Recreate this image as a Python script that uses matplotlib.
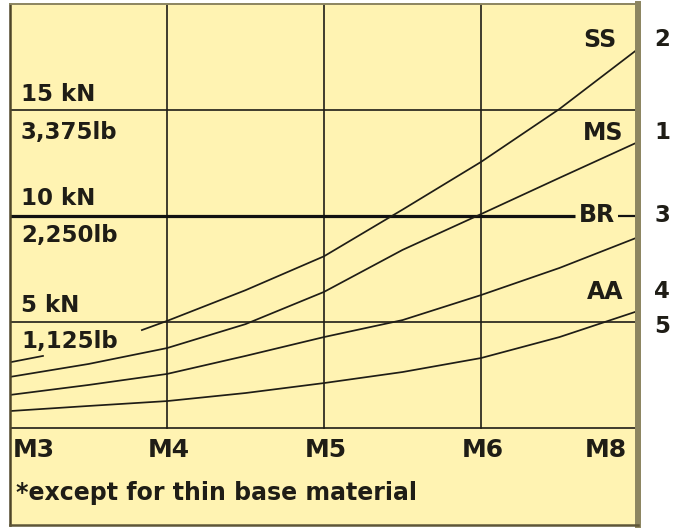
import matplotlib
matplotlib.use("Agg")
import matplotlib.pyplot as plt

# screw sizes along the bottom (positions 0..4 on the x scale)
sizes = ["M3", "M4", "M5", "M6", "M8"]
size_pos = [0, 1, 2, 3, 4]

# force levels (kN) and their lb equivalents
kn_levels = [5, 10, 15]
kn_labels = ["5 kN", "10 kN", "15 kN"]
lb_labels = ["1,125lb", "2,250lb", "3,375lb"]

# curves (x = size position, y = kN)
ss_x = [0, 0.21, 0.84, 1, 1.5, 2, 2.5, 3, 3.5, 4]
ss_y = [3.1, 3.4, 4.62, 5.05, 6.5, 8.1, 10.3, 12.55, 15.05, 17.88]
ms_x = [0, 0.5, 1, 1.5, 2, 2.5, 3, 3.5, 4]
ms_y = [2.41, 3.02, 3.77, 4.9, 6.42, 8.4, 10.09, 11.8, 13.49]
c3_x = [0, 0.5, 1, 1.5, 2, 2.5, 3, 3.5, 4]
c3_y = [1.56, 2.03, 2.55, 3.4, 4.29, 5.09, 6.27, 7.55, 9.0]
c4_x = [0, 0.5, 1, 1.5, 2, 2.5, 3, 3.5, 4]
c4_y = [0.8, 1.04, 1.27, 1.65, 2.12, 2.64, 3.3, 4.29, 5.52]

# labels on the right
grade_labels = ["SS", "MS", "BR", "AA"]
grade_y = [17.97, 13.58, 9.72, 6.08]
grade_x = [3.866, 3.904, 3.854, 3.904]
num_labels = ["2", "1", "3", "4", "5"]
num_y = [18.02, 13.63, 9.72, 6.13, 4.48]

yellow = "#fff3b2"
ink = "#1f1d16"
frame = "#8c8560"

fig = plt.figure(figsize=(6.77, 5.29), dpi=100)
ax = fig.add_axes([10 / 677, 4 / 529, 628 / 677, 521 / 529])
ax.set_facecolor(yellow)
ax.set_xlim(0, 4)
ax.set_ylim(-4.575, 20)
ax.set_xticks([])
ax.set_yticks([])
ax.spines["left"].set_color("#4e4528")
ax.spines["left"].set_linewidth(1.8)
ax.spines["top"].set_color(frame)
ax.spines["top"].set_linewidth(1.4)
ax.spines["bottom"].set_color("#5e5638")
ax.spines["bottom"].set_linewidth(1.8)
ax.spines["right"].set_color(frame)
ax.spines["right"].set_linewidth(4.3)

# grid
for p in size_pos[1:-1]:
    ax.plot([p, p], [0, 20], color=ink, lw=1.2)
ax.axhline(0, color=ink, lw=1.2)
ax.axhline(5, color=ink, lw=1.2)
ax.axhline(15, color=ink, lw=1.2)
ax.plot([0, 3.6], [10, 10], color="#111", lw=2.3, solid_capstyle="butt")
ax.plot([3.875, 4], [10, 10], color="#111", lw=1.6, solid_capstyle="butt")

# curves
lw_c = 1.25
ax.plot(ss_x[:2], ss_y[:2], color=ink, lw=lw_c)
ax.plot(ss_x[2:], ss_y[2:], color=ink, lw=lw_c)
ax.plot(ms_x, ms_y, color=ink, lw=lw_c)
ax.plot(c3_x, c3_y, color=ink, lw=lw_c)
ax.plot(c4_x, c4_y, color=ink, lw=lw_c)

txt = dict(color=ink, fontweight="bold", fontfamily="DejaVu Sans")

# force labels on the left
kn_base = [5.47, 10.52, 15.42]
lb_base = [3.77, 8.77, 13.63]
for kl, ll, kb, lbb in zip(kn_labels, lb_labels, kn_base, lb_base):
    ax.text(0.07, kb, kl, fontsize=16.5, ha="left", va="baseline", **txt)
    ax.text(0.07, lbb, ll, fontsize=16.5, ha="left", va="baseline", **txt)

for lab, gx, gy in zip(grade_labels, grade_x, grade_y):
    ax.text(gx, gy, lab, fontsize=17, ha="right", va="baseline", **txt)

for lab, ny in zip(num_labels, num_y):
    ax.text(4.153, ny, lab, fontsize=16.5, ha="center", va="baseline",
            clip_on=False, **txt)

# size labels
for s, p in zip(sizes, size_pos):
    if p == 0:
        ax.text(0.02, -1.37, s, fontsize=18, ha="left", va="baseline", **txt)
    elif p == 4:
        ax.text(3.93, -1.37, s, fontsize=18, ha="right", va="baseline", **txt)
    else:
        ax.text(p + 0.01, -1.37, s, fontsize=18, ha="center", va="baseline", **txt)

ax.text(0.04, -3.40, "*except for thin base material", fontsize=17,
        ha="left", va="baseline", **txt)

fig.savefig("out.png", dpi=100, facecolor="white")
